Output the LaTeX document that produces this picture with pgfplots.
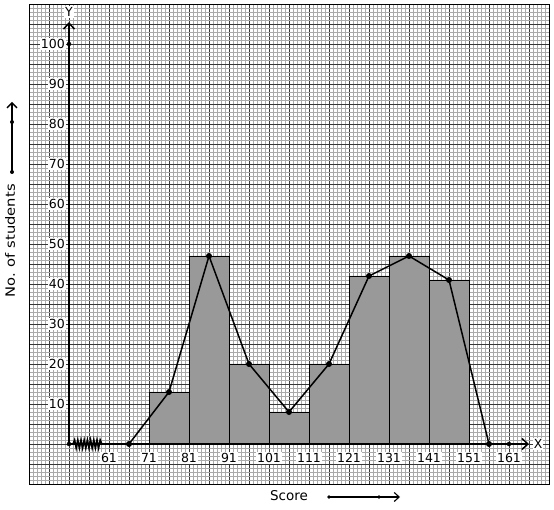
\documentclass[border=0pt]{standalone}
\usepackage{fontspec}
\setmainfont{DejaVu Sans}
\usepackage{graphicx}
\usepackage{pgfplots}
\pgfplotsset{compat=1.18}
\usetikzlibrary{arrows.meta}
\definecolor{bargray}{RGB}{153,153,153}
\definecolor{minorgrid}{RGB}{170,170,170}
\definecolor{majorgrid}{RGB}{55,55,55}
\newcommand{\lblfont}{\fontsize{12.5}{14}\selectfont}
\begin{document}
\begin{tikzpicture}[font=\lblfont]
\useasboundingbox (-29pt,-26pt) rectangle (525pt,484pt);
\begin{axis}[
  at={(0,0)}, anchor=south west,
  scale only axis, width=520pt, height=480pt,
  xmin=41, xmax=171, ymin=-10, ymax=110,
  clip=false,
  axis line style={draw=black, line width=0.8pt},
  xtick={41,46,...,171}, ytick={-10,-5,...,110},
  xticklabels={}, yticklabels={},
  minor x tick num=4, minor y tick num=4,
  major tick length=0pt, minor tick length=0pt,
  tick style={draw=none},
  grid=both,
  minor grid style={draw=minorgrid, line width=0.5pt},
  major grid style={draw=majorgrid, line width=0.6pt},
  every tick label/.append style={font=\lblfont},
  extra x ticks={61,71,81,91,101,111,121,131,141,151,161},
  extra x tick labels={61,71,81,91,101,111,121,131,141,151,161},
  extra x tick style={grid=none, xticklabel style={anchor=center, yshift=26pt, fill=white, inner sep=1pt, font=\lblfont}},
  extra y ticks={10,20,30,40,50,60,70,80,90,100},
  extra y tick labels={10,20,30,40,50,60,70,80,90,100},
  extra y tick style={grid=none, yticklabel style={anchor=east, xshift=37pt, fill=white, inner sep=1pt, font=\lblfont}},
  xlabel={Score},
  xlabel style={at={(rel axis cs:0.5,0)}, anchor=center, yshift=-12pt, font=\fontsize{13.5}{15}\selectfont},
  ylabel={\scalebox{1.15}[1]{No. of students}},
  ylabel style={at={(rel axis cs:0,0.5)}, anchor=center, yshift=19pt, xshift=3pt, font=\fontsize{12.8}{14}\selectfont},
]
% histogram
\addplot[ybar interval, fill=bargray, draw=black, line width=0.6pt]
  coordinates {(71,13)(81,47)(91,20)(101,8)(111,20)(121,42)(131,47)(141,41)(151,41)};
% axes
\addplot[black, line width=1.8pt, -{Straight Barb[length=6pt, width=11pt, line width=1.5pt]}]
  coordinates {(51,0)(166,0)};
\addplot[black, line width=1.8pt, -{Straight Barb[length=6pt, width=11pt, line width=1.5pt]}]
  coordinates {(51,0)(51,105.5)};
% zigzag break
\addplot[black, line width=1.6pt]
  coordinates {(52,0)(52.4,1)(52.8,-1)(53.2,1)(53.6,-1)(54,1)(54.4,-1)(54.8,1)(55.2,-1)(55.6,1)(56,-1)(56.4,1)(56.8,-1)(57.2,1)(57.6,-1)(58,1)(58.4,-1)(58.8,1)(59.2,0)};
% axis dots
\addplot[only marks, mark=*, mark size=2pt, black]
  coordinates {(51,0)(51,100)(161,0)};
% frequency polygon
\addplot[black, line width=1.5pt, mark=*, mark size=2.2pt]
  coordinates {(66,0)(76,13)(86,47)(96,20)(106,8)(116,20)(126,42)(136,47)(146,41)(156,0)};
% axis names
\node[fill=white, inner sep=1pt, font=\lblfont] at (axis cs:51,108) {Y};
\node[fill=white, inner sep=1pt, font=\lblfont] at (axis cs:168.3,0) {X};
% decorative direction arrows
\draw[black, line width=1.5pt, -{Straight Barb[length=5pt, width=10pt, line width=1.3pt]}]
  (axis cs:36.75,68) -- (axis cs:36.75,85.5);
\fill[black] (axis cs:36.75,68) circle (2pt);
\fill[black] (axis cs:36.75,80.5) circle (2pt);
\draw[black, line width=1.2pt, -{Straight Barb[length=5pt, width=9pt, line width=1.1pt]}]
  (axis cs:116,-13.25) -- (axis cs:133.75,-13.25);
\fill[black] (axis cs:116,-13.25) circle (1.8pt);
\fill[black] (axis cs:128.5,-13.25) circle (1.8pt);
\end{axis}
\end{tikzpicture}
\end{document}
